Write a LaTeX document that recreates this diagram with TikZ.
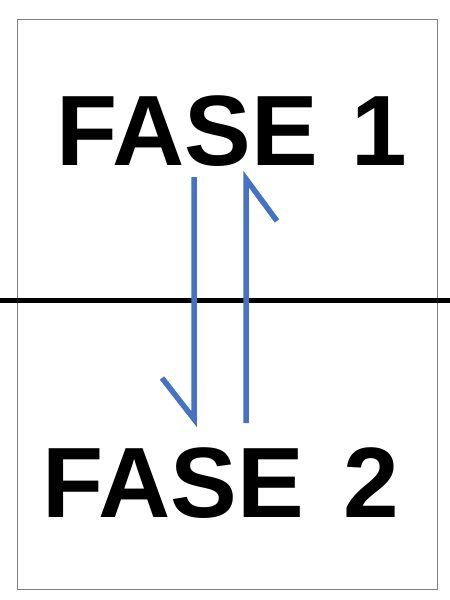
\documentclass[tikz,border=0pt]{standalone}
\usepackage{fontspec}
\setmainfont{Liberation Sans}
\usetikzlibrary{positioning}
\definecolor{flowblue}{HTML}{4472C4}
\tikzset{
  frame/.style={
    draw=black!50, line width=0.9pt
  },
  divider/.style={
    draw=black, line width=5pt
  },
  phase/.style={
    inner sep=0pt, anchor=base,
    font=\fontsize{100}{100}\selectfont\bfseries
  },
  flow/.style={
    draw=flowblue, line width=5.5pt, line join=miter, miter limit=20
  }
}
\begin{document}
\begin{tikzpicture}[x=1pt, y=-1pt]
  \useasboundingbox (0,0) rectangle (450,600);
  \draw[frame] (17.5,19) rectangle (437,589);
  % phases
  \node[phase] (fase1) at (232,165) {FASE\hspace{6pt} 1};
  \node[phase] (fase2) at (221,517) {FASE\hspace{12pt} 2};
  % separating line
  \draw[divider] (0,300) -- (450,300);
  % ends of the two flows
  \coordinate (down-top) at (194,177);
  \coordinate (down-end) at (194,419);
  \coordinate (down-barb) at (162,378);
  \coordinate (up-top) at (246,179);
  \coordinate (up-end) at (246,423);
  \coordinate (up-barb) at (277,221);
  \draw[flow] (down-top) -- (down-end) -- (down-barb);
  \draw[flow] (up-end) -- (up-top) -- (up-barb);
\end{tikzpicture}
\end{document}
